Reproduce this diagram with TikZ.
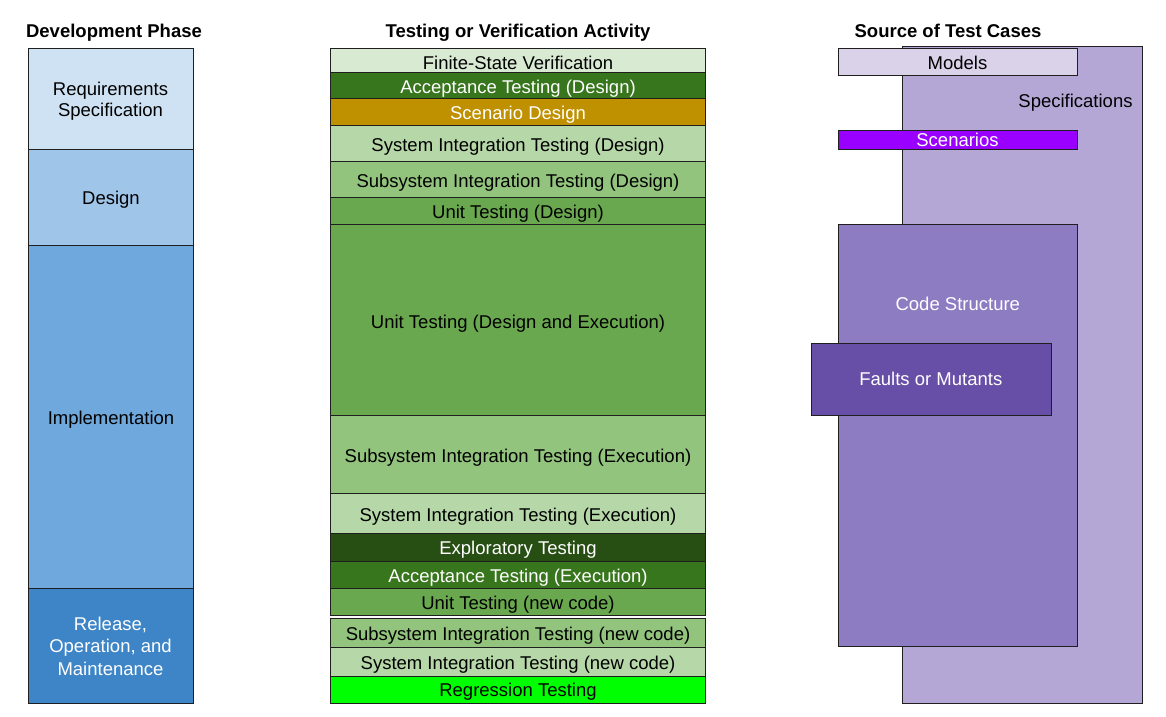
\documentclass[tikz,border=0pt]{standalone}
\usepackage{fontspec}
\setmainfont{Liberation Sans}
\usetikzlibrary{calc}
\definecolor{linec}{HTML}{1F1F1F}
\definecolor{lb3}{HTML}{CFE2F3}
\definecolor{lb2}{HTML}{9FC5E8}
\definecolor{lb1}{HTML}{6FA8DC}
\definecolor{db1}{HTML}{3D85C6}
\definecolor{lg3}{HTML}{D9EAD3}
\definecolor{lg2}{HTML}{B6D7A8}
\definecolor{lg1}{HTML}{93C47D}
\definecolor{dg1}{HTML}{6AA84F}
\definecolor{dg2}{HTML}{38761D}
\definecolor{dg3}{HTML}{274E13}
\definecolor{dy2}{HTML}{BF9000}
\definecolor{rgreen}{HTML}{00FF00}
\definecolor{lp3}{HTML}{D9D2E9}
\definecolor{lp2}{HTML}{B4A7D6}
\definecolor{lp1}{HTML}{8E7CC3}
\definecolor{dp1}{HTML}{674EA7}
\definecolor{purp}{HTML}{9900FF}
\begin{document}
\begin{tikzpicture}[x=1pt,y=1pt,
  box/.style={draw=linec, line width=1pt, rectangle, inner sep=0pt, anchor=north west},
  lbl/.style={font=\fontsize{18.5}{22}\selectfont, inner sep=0pt, anchor=base},
  wlbl/.style={lbl, text=white},
  ttl/.style={font=\fontsize{18.5}{22}\selectfont\bfseries, inner sep=0pt, anchor=base}]
\useasboundingbox[fill=white] (0,0) rectangle (1166,-716);

% titles
\node[ttl] (t1) at (114,-37) {Development Phase};
\node[ttl] (t2) at (518,-37) {Testing or Verification Activity};
\node[ttl] (t3) at (948,-37) {Source of Test Cases};

% development phases
\node[box, fill=lb3, minimum width=165pt, minimum height=101pt] (req) at (28,-48) {};
\node[box, fill=lb2, minimum width=165pt, minimum height=96pt] (des) at (28,-149) {};
\node[box, fill=lb1, minimum width=165pt, minimum height=343pt] (imp) at (28,-245) {};
\node[box, fill=db1, minimum width=165pt, minimum height=115pt] (rel) at (28,-588) {};
\node[lbl] (reqA) at (110.5,-95) {Requirements};
\node[lbl] (reqB) at (110.5,-116.7) {Specification};
\node[lbl] (desT) at ($(des.center)+(0,-7)$) {Design};
\node[lbl] (impT) at ($(imp.center)+(0,-7)$) {Implementation};
\node[wlbl] (relA) at (110.5,-630.7) {Release,};
\node[wlbl] (relB) at (110.5,-652.7) {Operation, and};
\node[wlbl] (relC) at (110.5,-675) {Maintenance};

% testing activities
\node[box, fill=lg3, minimum width=375pt, minimum height=24pt] (a1) at (330,-48) {};
\node[box, fill=dg2, minimum width=375pt, minimum height=26pt] (a2) at (330,-72) {};
\node[box, fill=dy2, minimum width=375pt, minimum height=27pt] (a3) at (330,-98) {};
\node[box, fill=lg2, minimum width=375pt, minimum height=36pt] (a4) at (330,-125) {};
\node[box, fill=lg1, minimum width=375pt, minimum height=36pt] (a5) at (330,-161) {};
\node[box, fill=dg1, minimum width=375pt, minimum height=27pt] (a6) at (330,-197) {};
\node[box, fill=dg1, minimum width=375pt, minimum height=191pt] (a7) at (330,-224) {};
\node[box, fill=lg1, minimum width=375pt, minimum height=78pt] (a8) at (330,-415) {};
\node[box, fill=lg2, minimum width=375pt, minimum height=40pt] (a9) at (330,-493) {};
\node[box, fill=dg3, minimum width=375pt, minimum height=28pt] (a10) at (330,-533) {};
\node[box, fill=dg2, minimum width=375pt, minimum height=27pt] (a11) at (330,-561) {};
\node[box, fill=dg1, minimum width=375pt, minimum height=27pt] (a12) at (330,-588) {};
\node[box, fill=lg1, minimum width=375pt, minimum height=29pt] (a13) at (330,-618) {};
\node[box, fill=lg2, minimum width=375pt, minimum height=29pt] (a14) at (330,-647) {};
\node[box, fill=rgreen, minimum width=375pt, minimum height=27pt] (a15) at (330,-676) {};
\node[lbl] (a1T) at ($(a1.center)+(0,-8.5)$) {Finite-State Verification};
\node[wlbl] (a2T) at ($(a2.center)+(0,-8)$) {Acceptance Testing (Design)};
\node[wlbl] (a3T) at ($(a3.center)+(0,-7.5)$) {Scenario Design};
\node[lbl] (a4T) at ($(a4.center)+(0,-7.5)$) {System Integration Testing (Design)};
\node[lbl] (a5T) at ($(a5.center)+(0,-7.5)$) {Subsystem Integration Testing (Design)};
\node[lbl] (a6T) at ($(a6.center)+(0,-7.5)$) {Unit Testing (Design)};
\node[lbl] (a7T) at ($(a7.center)+(0,-8)$) {Unit Testing (Design and Execution)};
\node[lbl] (a8T) at ($(a8.center)+(0,-7.5)$) {Subsystem Integration Testing (Execution)};
\node[lbl] (a9T) at ($(a9.center)+(0,-7.5)$) {System Integration Testing (Execution)};
\node[wlbl] (a10T) at ($(a10.center)+(0,-7)$) {Exploratory Testing};
\node[wlbl] (a11T) at ($(a11.center)+(0,-7)$) {Acceptance Testing (Execution)};
\node[lbl] (a12T) at ($(a12.center)+(0,-7)$) {Unit Testing (new code)};
\node[lbl] (a13T) at ($(a13.center)+(0,-7)$) {Subsystem Integration Testing (new code)};
\node[lbl] (a14T) at ($(a14.center)+(0,-7)$) {System Integration Testing (new code)};
\node[lbl] (a15T) at ($(a15.center)+(0,-6)$) {Regression Testing};

% sources of test cases
\node[box, fill=lp2, minimum width=240pt, minimum height=657pt] (spec) at (902,-46) {};
\node[box, fill=lp3, minimum width=239pt, minimum height=27pt] (mod) at (838,-48) {};
\node[box, fill=purp, minimum width=239pt, minimum height=19pt] (scn) at (838,-130) {};
\node[box, fill=lp1, minimum width=239pt, minimum height=422pt] (code) at (838,-224) {};
\node[box, fill=dp1, minimum width=240pt, minimum height=72pt] (flt) at (811,-343) {};
\node[lbl] (specT) at (1075.5,-107.3) {Specifications};
\node[lbl] (modT) at (957.5,-69) {Models};
\node[wlbl] (scnT) at (957.5,-146) {Scenarios};
\node[wlbl] (codeT) at (957.8,-310) {Code Structure};
\node[wlbl] (fltT) at (930.8,-385.7) {Faults or Mutants};
\end{tikzpicture}
\end{document}
